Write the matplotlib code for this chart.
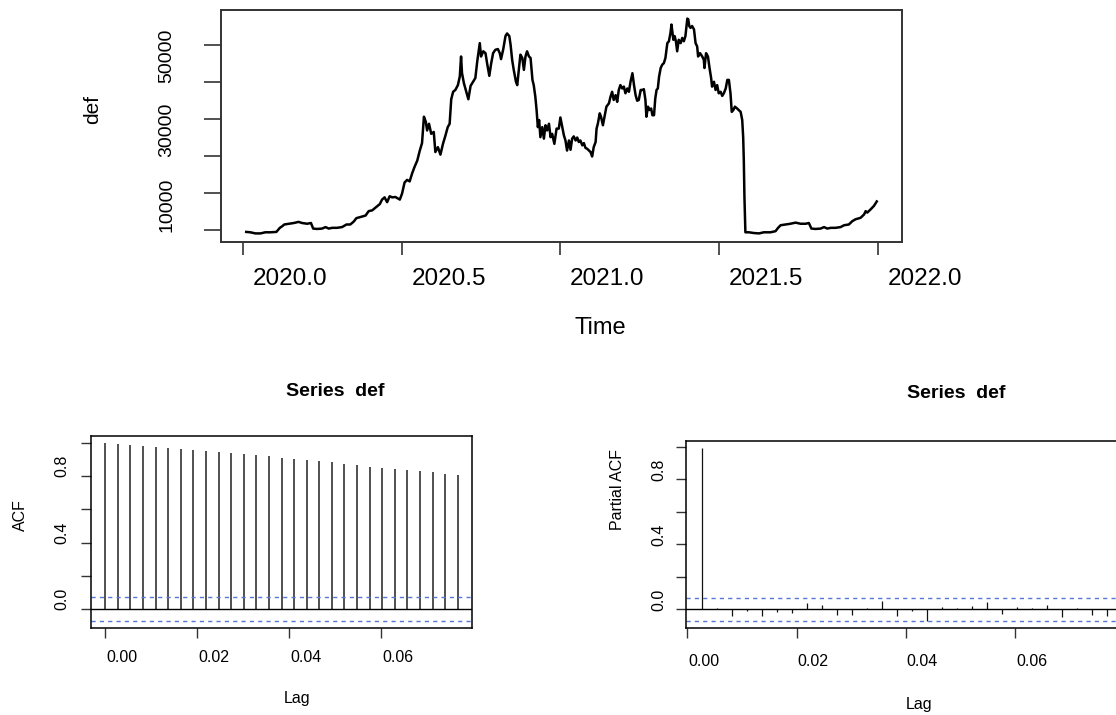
import numpy as np
import matplotlib.pyplot as plt
import matplotlib.transforms as mtransforms

plt.rcParams['font.family'] = ['Liberation Sans', 'DejaVu Sans']

# --- series "def" (time in years, value) ---
t_def = [2020.010, 2020.023, 2020.039, 2020.055, 2020.070, 2020.086, 2020.105, 2020.116, 2020.123, 2020.130,
         2020.144, 2020.160, 2020.175, 2020.186, 2020.202, 2020.214, 2020.221, 2020.233, 2020.249, 2020.260,
         2020.270, 2020.281, 2020.296, 2020.312, 2020.326, 2020.338, 2020.349, 2020.357, 2020.370, 2020.386,
         2020.396, 2020.407, 2020.417, 2020.431, 2020.438, 2020.446, 2020.454, 2020.462, 2020.470, 2020.480,
         2020.494, 2020.501, 2020.509, 2020.517, 2020.525, 2020.533, 2020.540, 2020.549, 2020.557, 2020.564,
         2020.570, 2020.576, 2020.580, 2020.586, 2020.593, 2020.601, 2020.606, 2020.614, 2020.622, 2020.630,
         2020.638, 2020.645, 2020.651, 2020.656, 2020.662, 2020.669, 2020.677, 2020.683, 2020.687, 2020.690,
         2020.696, 2020.702, 2020.710, 2020.717, 2020.725, 2020.732, 2020.738, 2020.743, 2020.746, 2020.750,
         2020.757, 2020.764, 2020.769, 2020.776, 2020.782, 2020.788, 2020.795, 2020.803, 2020.809, 2020.813,
         2020.820, 2020.827, 2020.832, 2020.839, 2020.843, 2020.848, 2020.853, 2020.860, 2020.864, 2020.869,
         2020.874, 2020.880, 2020.885, 2020.890, 2020.895, 2020.901, 2020.906, 2020.912, 2020.916, 2020.921,
         2020.925, 2020.929, 2020.933, 2020.937, 2020.943, 2020.948, 2020.953, 2020.958, 2020.964, 2020.969,
         2020.974, 2020.981, 2020.988, 2020.995,
         2021.000, 2021.006, 2021.011, 2021.016, 2021.021, 2021.027, 2021.032, 2021.037, 2021.042, 2021.048,
         2021.053, 2021.058, 2021.063, 2021.069, 2021.074, 2021.079, 2021.084, 2021.090, 2021.095, 2021.100,
         2021.105, 2021.111, 2021.114, 2021.118, 2021.124, 2021.128, 2021.134, 2021.139, 2021.145, 2021.153,
         2021.158, 2021.163, 2021.168, 2021.174, 2021.179, 2021.184, 2021.189, 2021.195, 2021.200, 2021.205,
         2021.211, 2021.216, 2021.221, 2021.227, 2021.232, 2021.237, 2021.242, 2021.247, 2021.253, 2021.258,
         2021.263, 2021.268, 2021.271, 2021.276, 2021.281, 2021.286, 2021.290, 2021.295, 2021.299, 2021.303,
         2021.307, 2021.311, 2021.316, 2021.321, 2021.326, 2021.331, 2021.337, 2021.342, 2021.347, 2021.350,
         2021.356, 2021.360, 2021.364, 2021.368, 2021.373, 2021.379, 2021.384, 2021.389, 2021.394, 2021.400,
         2021.403, 2021.406, 2021.410, 2021.415, 2021.421, 2021.426, 2021.431, 2021.434, 2021.440, 2021.447,
         2021.452, 2021.454, 2021.459, 2021.465, 2021.470, 2021.475, 2021.478, 2021.484, 2021.489, 2021.494,
         2021.499, 2021.505, 2021.510, 2021.515, 2021.521, 2021.526, 2021.531, 2021.536, 2021.540, 2021.545,
         2021.550, 2021.557, 2021.568, 2021.573, 2021.576, 2021.578, 2021.580, 2021.583, 2021.594, 2021.610,
         2021.626, 2021.641, 2021.662, 2021.678, 2021.686, 2021.694, 2021.710, 2021.725, 2021.741, 2021.757,
         2021.773, 2021.783, 2021.791, 2021.804, 2021.820, 2021.831, 2021.841, 2021.852, 2021.867, 2021.883,
         2021.894, 2021.909, 2021.920, 2021.930, 2021.946, 2021.957, 2021.962, 2021.967, 2021.978, 2021.988,
         2021.997]
v_def = [9600, 9500, 9200, 9200, 9500, 9500, 9600, 10700, 11100, 11600,
         11800, 12000, 12300, 12000, 11800, 12000, 10500, 10400, 10500, 10900,
         10500, 10700, 10700, 10900, 11600, 11600, 12400, 13300, 13600, 14000,
         15200, 15400, 16100, 17100, 18300, 18900, 17600, 19200, 18900, 19000,
         18300, 19900, 22900, 23600, 23200, 25400, 27000, 28800, 31500, 33500,
         40600, 39200, 36900, 38700, 36000, 36500, 31100, 32400, 30400, 33300,
         35600, 37800, 38700, 45300, 47300, 47800, 49100, 51400, 56800, 52300,
         49600, 47800, 45300, 48900, 50000, 51000, 55500, 58600, 60400, 56800,
         58200, 57700, 55000, 51600, 55000, 57700, 58600, 58800, 57700, 56100,
         58800, 62300, 63000, 62300, 60000, 55900, 53200, 50000, 49100, 53200,
         57300, 56400, 53200, 56800, 58200, 56800, 56400, 50500, 49100, 46000,
         42400, 37800, 39700, 35100, 37800, 34700, 38300, 36900, 38700, 35100,
         36000, 33300, 37400, 37400,
         40400, 37800, 35600, 34200, 31500, 34200, 31700, 34700, 35300, 34200,
         35000, 33800, 34200, 32900, 33500, 32200, 32000, 31500, 31100, 29900,
         32400, 33800, 37400, 38700, 41500, 40600, 38300, 40600, 43300, 44200,
         46000, 47300, 45100, 46400, 44600, 47800, 49100, 48200, 48700, 46900,
         48200, 47300, 50000, 52300, 49100, 46400, 44900, 45100, 47800, 47800,
         48000, 45100, 40600, 43300, 42400, 42800, 41000, 41000, 45500, 47800,
         48200, 51400, 53700, 54600, 55000, 56400, 60400, 60900, 63200, 65400,
         61300, 62300, 60900, 58200, 61300, 60400, 61800, 60900, 62300, 67000,
         66800, 65000, 64500, 65000, 64100, 60400, 59500, 56800, 57700, 56800,
         55900, 53700, 57700, 56800, 53700, 51000, 48700, 50000, 47800, 49100,
         46900, 47300, 46200, 46900, 48200, 50500, 50500, 46900, 41900, 42400,
         43300, 42800, 41900, 39700, 35100, 28800, 18900, 9500, 9500, 9300,
         9200, 9500, 9500, 9800, 10700, 11400, 11600, 11800, 12100, 11800,
         11800, 12000, 10500, 10400, 10500, 10900, 10500, 10700, 10700, 10900,
         11400, 11600, 12500, 13000, 13400, 14300, 15200, 14800, 15700, 16600,
         17800]

# --- autocorrelations (lags in years, frequency 365) ---
acf_lag = np.arange(0, 29) / 365
acf_val = [1.000, 0.994, 0.988, 0.982, 0.976, 0.970, 0.962, 0.956, 0.952, 0.946,
           0.938, 0.932, 0.926, 0.920, 0.912, 0.906, 0.896, 0.890, 0.884, 0.876,
           0.869, 0.857, 0.851, 0.845, 0.837, 0.833, 0.827, 0.815, 0.809]
pacf_lag = np.arange(1, 29) / 365
pacf_val = [0.994, 0.010, -0.039, -0.008, -0.039, -0.014, -0.022, 0.037, 0.027, -0.035,
            -0.035, 0.010, 0.051, -0.039, -0.010, -0.070, 0.016, 0.006, 0.022, 0.047,
            -0.029, 0.012, 0.008, 0.027, -0.047, 0.008, -0.035, -0.043]
clim = 0.072

yr_ticks = [2020.0, 2020.5, 2021.0, 2021.5, 2022.0]
def_ticks = [10000, 20000, 30000, 40000, 50000, 60000]
def_labels = ['10000', '', '30000', '', '50000', '']
lag_ticks = [0.00, 0.02, 0.04, 0.06]
cf_ticks = [0.0, 0.2, 0.4, 0.6, 0.8, 1.0]
cf_labels = ['0.0', '', '0.4', '', '0.8', '']

W, H = 1116, 715
fig = plt.figure(figsize=(W / 100, H / 100), dpi=100)


def rlim(lo, hi):
    # R style axis range: data range plus 4% on each side
    pad = 0.04 * (hi - lo)
    return lo - pad, hi + pad


def px_axes(left, top, right, bottom):
    return fig.add_axes([left / W, 1 - bottom / H, (right - left) / W, (bottom - top) / H])


def xlabels(ax, ticks, fmt, dx, dy, size):
    tr = mtransforms.offset_copy(ax.get_xaxis_transform(), fig=fig, x=dx, y=dy, units='dots')
    for t in ticks:
        ax.text(t, 0, fmt.format(t), transform=tr, ha='center', va='center',
                fontsize=size, clip_on=False)


def ylabels(ax, ticks, labels, dx, dy, size):
    tr = mtransforms.offset_copy(ax.get_yaxis_transform(), fig=fig, x=dx, y=dy, units='dots')
    for t, s in zip(ticks, labels):
        if s:
            ax.text(0, t, s, transform=tr, ha='center', va='center', rotation=90,
                    fontsize=size, clip_on=False)


def ftext(x, y, s, **kw):
    fig.text(x / W, 1 - y / H, s, ha='center', va='center', **kw)


# --- top: time series ---
ax = px_axes(221, 10, 902, 242)
ax.plot(t_def, v_def, color='black', lw=1.8)
ax.set_xlim(rlim(min(t_def), max(t_def)))
ax.set_ylim(rlim(min(v_def), max(v_def)))
ax.set_xticks(yr_ticks)
ax.set_yticks(def_ticks)
ax.tick_params(direction='out', labelbottom=False, labelleft=False, color='#333333', width=1.2)
ax.tick_params(axis='x', length=9)
ax.tick_params(axis='y', length=12)
for s in ax.spines.values():
    s.set_color('#333333')
    s.set_linewidth(1.4)
xlabels(ax, yr_ticks, '{:.1f}', 47, -37, 17.5)
ylabels(ax, def_ticks, def_labels, -54, 26, 14)
ftext(600, 328, 'Time', fontsize=17)
ftext(93, 110, 'def', fontsize=15, rotation=90)


def cf_panel(ax, lags, vals, bar_color, bar_lw):
    ax.vlines(lags, 0, vals, color=bar_color, lw=bar_lw)
    ax.axhline(0, color='black', lw=1.0)
    for c in (clim, -clim):
        ax.axhline(c, color='#5576d6', lw=1.0, ls=(0, (3, 3)))
    ax.set_xlim(rlim(min(lags), max(lags)))
    ax.set_ylim(rlim(-clim, max(vals)))
    ax.set_xticks(lag_ticks)
    ax.set_yticks(cf_ticks)
    ax.tick_params(direction='out', length=7, width=1.0, color='#333333',
                   labelbottom=False, labelleft=False)
    for s in ax.spines.values():
        s.set_linewidth(1.1)


# --- bottom left: ACF ---
ax1 = px_axes(91, 436, 472, 628)
cf_panel(ax1, acf_lag, acf_val, '#505050', 1.4)
xlabels(ax1, lag_ticks, '{:.2f}', 17, -30, 11.5)
ylabels(ax1, cf_ticks, cf_labels, -29, 10, 11.5)
ftext(335, 391, 'Series  def', fontsize=14, fontweight='bold')
ftext(20, 515, 'ACF', fontsize=11.5, rotation=90)
ftext(297, 699, 'Lag', fontsize=11.5)

# --- bottom right: PACF ---
ax2 = px_axes(686, 441, 1123, 628)
cf_panel(ax2, pacf_lag, pacf_val, '#111111', 0.9)
xlabels(ax2, lag_ticks, '{:.2f}', 16.5, -34, 11.5)
ylabels(ax2, cf_ticks, cf_labels, -27.5, 10, 11.5)
ftext(956, 394, 'Series  def', fontsize=14, fontweight='bold')
ftext(618, 490, 'Partial ACF', fontsize=11.5, rotation=90)
ftext(919, 705, 'Lag', fontsize=11.5)

fig.savefig('out.png', dpi=100)
